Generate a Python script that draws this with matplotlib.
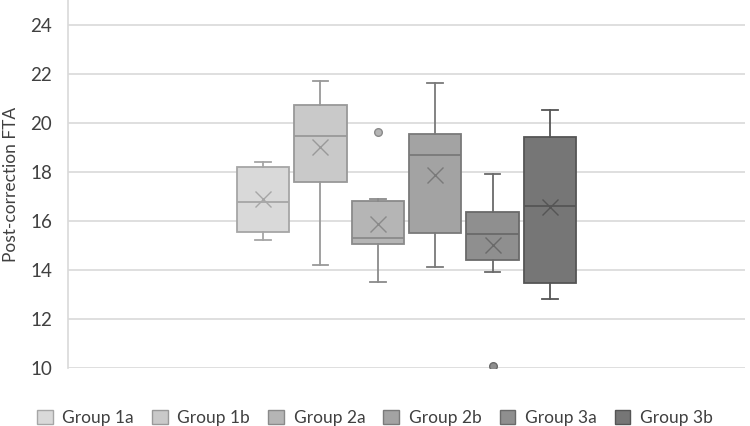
import matplotlib.pyplot as plt
from matplotlib.patches import Patch

# values
groups = ["Group 1a", "Group 1b", "Group 2a", "Group 2b", "Group 3a", "Group 3b"]
whisker_low = [15.2, 14.2, 13.5, 14.1, 13.9, 12.8]
q1 = [15.55, 17.6, 15.05, 15.5, 14.4, 13.45]
medians = [16.75, 19.45, 15.3, 18.7, 15.45, 16.6]
q3 = [18.2, 20.7, 16.8, 19.55, 16.35, 19.4]
whisker_high = [18.4, 21.7, 16.9, 21.6, 17.9, 20.5]
means = [16.9, 19.0, 15.85, 17.85, 15.0, 16.55]
outliers = [[], [], [19.6], [], [10.1], []]

fills = ["#d9d9d9", "#c9c9c9", "#b5b5b5", "#a3a3a3", "#8f8f8f", "#767676"]
edges = ["#a6a6a6", "#999999", "#8a8a8a", "#7a7a7a", "#6a6a6a", "#555555"]

plt.rcParams["font.family"] = ["Lato", "DejaVu Sans"]

fig = plt.figure(figsize=(7.5, 4.26), dpi=100)
ax = fig.add_axes([68 / 750, 1 - 368 / 426, (745 - 68) / 750, 368 / 426])

# gridlines behind the boxes
ax.set_axisbelow(True)
ax.grid(axis="y", color="#d9d9d9", linewidth=1.2)

for i, name in enumerate(groups):
    stats = [{
        "whislo": whisker_low[i],
        "q1": q1[i],
        "med": medians[i],
        "q3": q3[i],
        "whishi": whisker_high[i],
        "mean": means[i],
        "fliers": outliers[i],
    }]
    ax.bxp(
        stats,
        positions=[i],
        widths=0.91,
        patch_artist=True,
        showmeans=True,
        capwidths=0.27,
        boxprops=dict(facecolor=fills[i], edgecolor=edges[i], linewidth=1.3),
        medianprops=dict(color=edges[i], linewidth=1.3),
        whiskerprops=dict(color=edges[i], linewidth=1.3),
        capprops=dict(color=edges[i], linewidth=1.3),
        meanprops=dict(marker="x", markeredgecolor=edges[i], markersize=11,
                       markeredgewidth=1.0),
        flierprops=dict(marker="o", markerfacecolor=fills[i], markeredgecolor=edges[i],
                        markersize=5.5),
    )

ax.set_xlim(2.5 - 5.9, 2.5 + 5.9)
ax.set_ylim(10, 25)
ax.set_yticks(range(10, 25, 2))
ax.set_xticks([])
ax.tick_params(axis="y", length=0, labelsize=13.5, labelcolor="#404040", pad=11.5)

for side in ["top", "right", "bottom"]:
    ax.spines[side].set_visible(False)
ax.spines["left"].set_color("#d9d9d9")
ax.spines["left"].set_linewidth(1.2)

ax.set_ylabel("Post-correction FTA", fontsize=12.5, color="#404040", labelpad=8)

# legend along the bottom
handles = [Patch(facecolor=fills[i], edgecolor=edges[i], label=groups[i])
           for i in range(len(groups))]
fig.legend(handles=handles, loc="lower center", bbox_to_anchor=(0.5, -0.037), ncol=6,
           frameon=False, fontsize=12.5, handlelength=0.9, handleheight=0.9,
           handletextpad=0.55, columnspacing=1.05, labelcolor="#404040")

fig.savefig("out.png", dpi=100)
